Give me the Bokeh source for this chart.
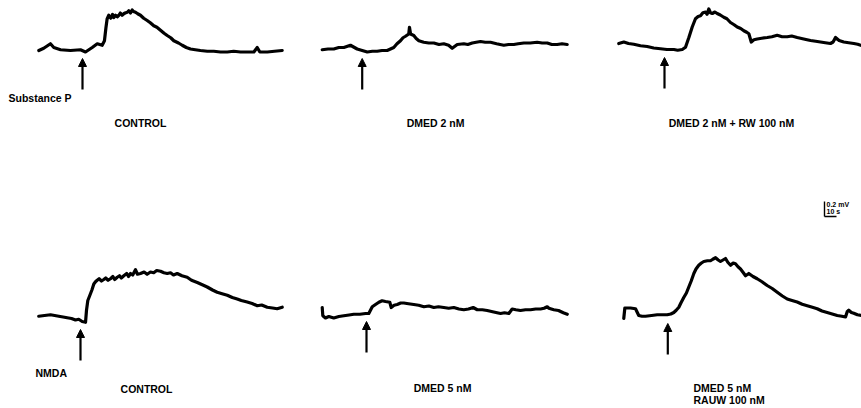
from bokeh.plotting import figure
from bokeh.models import Range1d, ColumnDataSource, Arrow, NormalHead, Label
from bokeh.embed import file_html
from bokeh.resources import INLINE

# ---------------- data: (time s from drug application, depolarization mV) ----------------
sp_control = [
    (-36.4, 0.00), (-32.3, 0.03), (-26.7, 0.09), (-23.9, 0.04), (-18.3, 0.01), (-10.0, 0.00),
    (-1.7, 0.01), (2.5, -0.02), (8.1, 0.04), (12.3, 0.09), (16.4, 0.07), (18.3, 0.13),
    (19.5, 0.30), (20.5, 0.42), (21.9, 0.47), (23.5, 0.43), (25.0, 0.48), (26.1, 0.44),
    (27.5, 0.47), (29.0, 0.45), (30.3, 0.47), (31.5, 0.50), (33.0, 0.47), (34.4, 0.49),
    (35.5, 0.50), (37.3, 0.51), (38.5, 0.53), (40.0, 0.50), (41.4, 0.54), (42.5, 0.52),
    (44.2, 0.51), (46.0, 0.49), (48.3, 0.47), (51.0, 0.43), (53.9, 0.40), (56.5, 0.37),
    (59.4, 0.33), (62.0, 0.31), (65.0, 0.27), (68.0, 0.23), (70.6, 0.20), (73.5, 0.17),
    (76.1, 0.13), (80.0, 0.10), (83.1, 0.07), (86.5, 0.04), (90.0, 0.02), (94.0, 0.01),
    (98.3, 0.00), (104.0, -0.01), (109.4, -0.01), (115.0, -0.02), (120.6, -0.02), (126.0, -0.01),
    (131.7, -0.02), (137.0, -0.02), (142.8, -0.02), (145.6, 0.04), (147.8, -0.02), (154.0, -0.02),
    (160.0, -0.01), (166.4, 0.00),
]
sp_dmed2 = [
    (-33.3, 0.01), (-28.5, 0.02), (-23.7, 0.02), (-19.5, 0.04), (-15.3, 0.04), (-9.8, 0.07),
    (-4.2, 0.02), (0.0, 0.00), (4.2, -0.02), (8.5, -0.01), (12.5, -0.01), (16.5, 0.00),
    (20.8, 0.00), (26.3, 0.04), (29.0, 0.09), (31.9, 0.13), (34.0, 0.17), (36.1, 0.19),
    (38.8, 0.22), (39.4, 0.31), (40.3, 0.22), (43.0, 0.20), (45.0, 0.16), (47.2, 0.13),
    (51.3, 0.11), (55.5, 0.10), (59.7, 0.10), (64.0, 0.08), (68.0, 0.09), (72.0, 0.07),
    (75.0, 0.03), (79.2, 0.08), (84.7, 0.09), (88.0, 0.08), (91.7, 0.10), (95.0, 0.11),
    (98.6, 0.12), (102.5, 0.11), (106.9, 0.11), (112.0, 0.09), (118.0, 0.07), (122.0, 0.08),
    (126.3, 0.08), (130.0, 0.09), (134.7, 0.10), (140.0, 0.10), (145.8, 0.11), (150.0, 0.10),
    (154.2, 0.10), (158.0, 0.08), (162.5, 0.08), (166.5, 0.09), (170.8, 0.08),
]
sp_dmed2_rw = [
    (-38.1, 0.08), (-33.9, 0.10), (-30.0, 0.08), (-25.6, 0.07), (-20.0, 0.05), (-14.4, 0.04),
    (-9.0, 0.02), (-3.3, 0.01), (2.0, 0.00), (7.8, 0.00), (11.0, -0.01), (14.8, 0.00),
    (17.5, 0.03), (20.3, 0.16), (23.1, 0.30), (25.8, 0.41), (28.0, 0.44), (30.0, 0.45),
    (32.0, 0.49), (34.2, 0.50), (35.5, 0.47), (36.9, 0.54), (38.3, 0.49), (39.8, 0.48),
    (42.0, 0.50), (43.9, 0.48), (46.5, 0.46), (49.4, 0.43), (52.0, 0.41), (55.0, 0.36),
    (58.0, 0.33), (60.6, 0.30), (63.5, 0.28), (66.1, 0.25), (68.5, 0.23), (70.3, 0.21),
    (72.3, 0.10), (74.5, 0.13), (77.3, 0.14), (81.0, 0.15), (85.6, 0.16), (89.5, 0.17),
    (93.9, 0.19), (98.0, 0.17), (102.3, 0.17), (106.0, 0.18), (110.6, 0.16), (116.0, 0.14),
    (121.7, 0.12), (126.0, 0.11), (130.0, 0.10), (134.0, 0.09), (138.3, 0.08), (140.5, 0.10),
    (142.5, 0.16), (145.5, 0.12), (149.4, 0.10), (153.5, 0.09), (157.8, 0.08), (161.0, 0.07),
    (164.8, 0.05),
]
nmda_control = [
    (-34.8, 0.07), (-30.0, 0.08), (-25.0, 0.09), (-21.5, 0.08), (-18.1, 0.07), (-14.5, 0.06),
    (-11.1, 0.05), (-7.5, 0.04), (-4.2, 0.02), (-1.5, 0.03), (1.4, 0.00), (4.2, -0.01),
    (5.0, 0.15), (6.1, 0.28), (8.3, 0.37), (9.5, 0.42), (11.1, 0.50), (12.5, 0.53),
    (13.9, 0.55), (15.5, 0.57), (17.5, 0.54), (19.4, 0.56), (21.0, 0.58), (23.0, 0.55),
    (25.0, 0.57), (27.0, 0.60), (28.5, 0.56), (30.6, 0.59), (32.5, 0.61), (34.0, 0.58),
    (36.1, 0.61), (38.5, 0.64), (40.0, 0.60), (41.7, 0.64), (43.5, 0.62), (45.8, 0.69),
    (47.5, 0.63), (50.0, 0.64), (53.0, 0.66), (55.5, 0.63), (58.3, 0.66), (61.0, 0.65),
    (63.5, 0.68), (66.7, 0.67), (69.5, 0.65), (72.3, 0.64), (75.0, 0.65), (77.5, 0.62),
    (80.6, 0.64), (84.5, 0.61), (88.9, 0.59), (92.5, 0.55), (97.3, 0.52), (101.5, 0.49),
    (105.6, 0.46), (110.0, 0.42), (113.9, 0.39), (118.0, 0.37), (122.3, 0.35), (126.5, 0.32),
    (130.6, 0.30), (134.0, 0.28), (138.9, 0.26), (143.0, 0.24), (147.3, 0.21), (151.0, 0.22),
    (155.6, 0.19), (160.0, 0.18), (163.9, 0.17), (168.1, 0.19),
]
nmda_dmed5 = [
    (-36.9, 0.08), (-36.4, -0.03), (-34.2, -0.06), (-31.4, -0.04), (-27.3, -0.06), (-23.0, -0.04),
    (-18.9, -0.03), (-14.5, -0.02), (-10.6, -0.01), (-5.5, -0.01), (-0.8, 0.00), (1.9, 0.00),
    (4.8, 0.09), (7.5, 0.12), (10.3, 0.15), (13.0, 0.17), (15.8, 0.16), (19.4, 0.15),
    (20.6, 0.08), (23.0, 0.11), (25.6, 0.12), (28.5, 0.14), (31.1, 0.14), (35.0, 0.13),
    (39.4, 0.12), (43.5, 0.11), (47.8, 0.09), (52.0, 0.10), (56.1, 0.08), (60.0, 0.09),
    (64.4, 0.08), (68.5, 0.07), (72.8, 0.08), (77.0, 0.06), (81.1, 0.05), (85.0, 0.06),
    (88.9, 0.08), (92.3, 0.05), (96.5, 0.05), (100.6, 0.04), (106.0, 0.02), (111.7, 0.00),
    (115.0, 0.01), (118.6, 0.00), (121.4, 0.06), (124.5, 0.05), (128.3, 0.04), (132.5, 0.05),
    (136.7, 0.05), (141.0, 0.06), (145.0, 0.06), (148.0, 0.07), (150.6, 0.09), (152.0, 0.07),
    (156.1, 0.05), (160.0, 0.04), (164.0, 0.01), (167.3, -0.01),
]
nmda_dmed5_rauw = [
    (-36.7, -0.04), (-35.8, 0.10), (-33.5, 0.10), (-31.1, 0.10), (-26.9, 0.09), (-24.2, 0.00),
    (-21.5, -0.01), (-18.6, -0.01), (-13.5, 0.00), (-8.8, 0.01), (-4.5, 0.01), (-0.5, 0.01),
    (2.5, 0.02), (5.0, 0.04), (7.0, 0.07), (9.2, 0.11), (11.0, 0.17), (13.3, 0.24),
    (15.5, 0.30), (17.5, 0.38), (19.5, 0.46), (21.7, 0.56), (23.5, 0.62), (25.8, 0.67),
    (28.0, 0.70), (30.0, 0.72), (33.0, 0.73), (35.6, 0.73), (37.5, 0.75), (39.8, 0.77),
    (42.0, 0.74), (43.9, 0.72), (46.0, 0.74), (48.1, 0.76), (50.0, 0.71), (52.3, 0.67),
    (54.5, 0.70), (56.4, 0.69), (58.5, 0.65), (60.6, 0.62), (62.5, 0.58), (64.8, 0.53),
    (67.5, 0.56), (71.0, 0.52), (74.5, 0.49), (78.5, 0.45), (82.8, 0.40), (87.0, 0.36),
    (91.2, 0.31), (95.5, 0.26), (99.5, 0.22), (103.5, 0.20), (107.8, 0.18), (112.0, 0.15),
    (116.2, 0.13), (120.5, 0.11), (124.5, 0.09), (128.5, 0.06), (132.8, 0.04), (137.0, 0.02),
    (141.2, 0.00), (145.0, -0.01), (148.1, -0.02), (149.5, 0.05), (150.8, 0.07), (153.0, 0.04),
    (155.0, 0.03), (158.0, 0.01), (161.4, 0.00),
]

agonist_labels = ["Substance P", "NMDA"]
condition_labels = [
    ["CONTROL"], ["DMED 2 nM"], ["DMED 2 nM + RW 100 nM"],
    ["CONTROL"], ["DMED 5 nM"], ["DMED 5 nM", "RAUW 100 nM"],
]
scale_mv = 0.2
scale_s = 10
scale_labels = ["0.2 mV", "10 s"]

# ---------------- layout ----------------
W, H = 861, 408
PX_S = 1.2     # pixels per second
PX_MV = 75.0   # pixels per mV
FONT = "Liberation Sans"


def page(X, Y):
    """picture pixel -> plot data coordinates (s, mV)"""
    return X / PX_S, -Y / PX_MV


traces = [sp_control, sp_dmed2, sp_dmed2_rw, nmda_control, nmda_dmed5, nmda_dmed5_rauw]
origins = [(82, 50), (361.7, 50), (664, 49), (80, 321), (366, 313), (667.3, 315)]

p = figure(width=W, height=H, x_range=Range1d(0, W / PX_S), y_range=Range1d(-H / PX_MV, 0),
           output_backend="svg", toolbar_location=None, min_border=0,
           x_axis_type=None, y_axis_type=None)
p.grid.visible = False
p.outline_line_color = None
p.background_fill_color = "white"
p.border_fill_color = "white"

ax, ay0, ay1 = [], [], []
for tr, (Xa, Yb) in zip(traces, origins):
    ox, oy = page(Xa, Yb)
    t, v = zip(*tr)
    p.line([ox + ti for ti in t], [oy + vi for vi in v], line_color="black",
           line_width=3.2, line_join="round", line_cap="round")
    ax.append(ox)
    ay0.append(oy - 39 / PX_MV)
    ay1.append(oy - 8 / PX_MV)

asrc = ColumnDataSource(dict(x=ax, y0=ay0, y1=ay1))
p.add_layout(Arrow(x_start="x", y_start="y0", x_end="x", y_end="y1", source=asrc,
                   line_color="black", line_width=2.2,
                   end=NormalHead(size=8, fill_color="black", line_color="black", line_width=1)))


def lab(X, Y, text, size="10.5px", align="center"):
    x, y = page(X, Y)
    p.add_layout(Label(x=x, y=y, text=text, text_font=FONT, text_font_size=size,
                       text_font_style="bold", text_align=align, text_baseline="middle",
                       text_color="black"))


lab(8, 97, agonist_labels[0], align="left")
lab(35, 372, agonist_labels[1], align="left")

cond_pos = [(140, 122, "center"), (435, 122, "center"), (731, 122, "center"),
            (146, 388, "center"), (442, 387.5, "center"), (693, 387, "left")]
for lines, (X, Y, al) in zip(condition_labels, cond_pos):
    for i, s in enumerate(lines):
        lab(X, Y + 12.5 * i, s, align=al)

# scale bar
sx, sy = page(824, 216)
p.segment(x0=[sx, sx], y0=[sy, sy], x1=[sx, sx + scale_s], y1=[sy + scale_mv, sy],
          line_color="black", line_width=1.4)
lab(826, 203.5, scale_labels[0], size="7px", align="left")
lab(826, 211, scale_labels[1], size="7px", align="left")

open("out.html", "w").write(file_html(p, INLINE))
